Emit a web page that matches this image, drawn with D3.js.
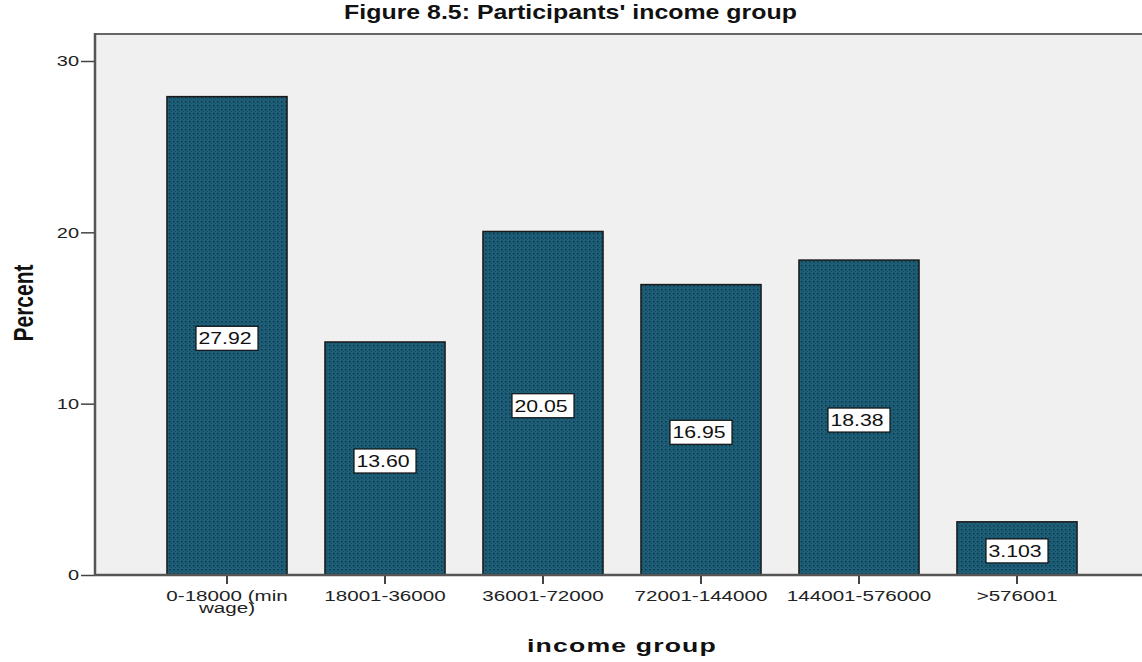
<!DOCTYPE html>
<html>
<head>
<meta charset="utf-8">
<script src="https://cdn.jsdelivr.net/npm/d3@7"></script>
<style>
  body { margin: 0; background: #fff; }
  svg { display: block; font-family: Arial, "Liberation Sans", sans-serif; }
</style>
</head>
<body>
<svg id="chart" width="1142" height="662"></svg>
<script>
const categories = ['0-18000 (min wage)', '18001-36000', '36001-72000', '72001-144000', '144001-576000', '>576001'];
const tickLines = [['0-18000 (min', 'wage)'], ['18001-36000'], ['36001-72000'], ['72001-144000'], ['144001-576000'], ['>576001']];
const percents = [27.92, 13.60, 20.05, 16.95, 18.38, 3.103];
const valueLabels = ['27.92', '13.60', '20.05', '16.95', '18.38', '3.103'];
const yTicks = [0, 10, 20, 30];

// the original export is stretched sideways, so text gets a horizontal scale
const SX = 1.33;

const svg = d3.select('#chart');
const plot = { left: 95, top: 34, right: 1142, bottom: 575 };

const x = d3.scaleBand()
  .domain(categories)
  .range([148, 1096])
  .paddingInner(0.24)
  .paddingOuter(0.12);

const y = d3.scaleLinear()
  .domain([0, 30])
  .range([plot.bottom, 61]);

// dotted fill like the SPSS output
const defs = svg.append('defs');
const pat = defs.append('pattern')
  .attr('id', 'dots')
  .attr('width', 4).attr('height', 4)
  .attr('patternUnits', 'userSpaceOnUse');
pat.append('rect').attr('width', 4).attr('height', 4).attr('fill', '#1d5e78');
pat.append('rect').attr('x', 1).attr('y', 1).attr('width', 1.5).attr('height', 1.5).attr('fill', '#0e3646');
pat.append('rect').attr('x', 3).attr('y', 3).attr('width', 1).attr('height', 1).attr('fill', '#174d63');

// plot background
svg.append('rect')
  .attr('x', plot.left).attr('y', plot.top)
  .attr('width', plot.right - plot.left)
  .attr('height', plot.bottom - plot.top)
  .attr('fill', '#f0f0f0');

svg.append('line')
  .attr('x1', plot.left).attr('x2', plot.right)
  .attr('y1', plot.top).attr('y2', plot.top)
  .attr('stroke', '#666').attr('stroke-width', 2);

// bars
svg.append('g')
  .selectAll('rect')
  .data(percents)
  .join('rect')
  .attr('x', (d, i) => x(categories[i]))
  .attr('y', d => y(d))
  .attr('width', x.bandwidth())
  .attr('height', d => y(0) - y(d))
  .attr('fill', 'url(#dots)')
  .attr('stroke', '#1a1a1a')
  .attr('stroke-width', 1.5);

// value labels in boxes
const lab = svg.append('g')
  .selectAll('g')
  .data(percents)
  .join('g')
  .attr('transform', (d, i) => `translate(${x(categories[i]) + x.bandwidth() / 2},${y(d / 2) + 2.5})`);

lab.append('rect')
  .attr('x', -31).attr('y', -12)
  .attr('width', 62).attr('height', 24)
  .attr('fill', '#fff')
  .attr('stroke', '#111')
  .attr('stroke-width', 1.2);

lab.append('text')
  .attr('text-anchor', 'middle')
  .attr('transform', `translate(-2,0) scale(${SX},1)`)
  .attr('dy', '0.36em')
  .style('font-size', '16px')
  .style('fill', '#111')
  .text((d, i) => valueLabels[i]);

// y axis
const yAxis = svg.append('g')
  .attr('transform', `translate(${plot.left},0)`)
  .call(d3.axisLeft(y).tickValues(yTicks).tickSize(14).tickPadding(2).tickFormat(d3.format('d')));
yAxis.select('.domain').remove();
yAxis.selectAll('.tick line').attr('stroke', '#444').attr('stroke-width', 1.5);
yAxis.selectAll('.tick text')
  .attr('x', -16 / SX)
  .attr('transform', `scale(${SX},1)`)
  .style('font-size', '15px').style('fill', '#222').attr('font-family', null);

svg.append('line')
  .attr('x1', plot.left).attr('x2', plot.left)
  .attr('y1', plot.top - 1).attr('y2', plot.bottom + 1)
  .attr('stroke', '#555').attr('stroke-width', 2.5);

// x axis
const xAxis = svg.append('g')
  .attr('transform', `translate(0,${plot.bottom})`)
  .call(d3.axisBottom(x).tickSize(9).tickFormat(''));
xAxis.select('.domain').remove();
xAxis.selectAll('.tick line').attr('stroke', '#444').attr('stroke-width', 2);

svg.append('line')
  .attr('x1', plot.left).attr('x2', plot.right)
  .attr('y1', plot.bottom).attr('y2', plot.bottom)
  .attr('stroke', '#555').attr('stroke-width', 2.5);

const tl = svg.append('g')
  .selectAll('text')
  .data(categories)
  .join('text')
  .attr('transform', d => `translate(${x(d) + x.bandwidth() / 2},601) scale(${SX},1)`)
  .attr('text-anchor', 'middle')
  .style('font-size', '15.5px')
  .style('fill', '#222');
tl.each(function (d, i) {
  d3.select(this).selectAll('tspan')
    .data(tickLines[i])
    .join('tspan')
    .attr('x', 0)
    .attr('dy', (t, j) => j === 0 ? 0 : 12)
    .text(t => t);
});

// titles, stretched to the width they have in the original
function fitWidth(sel, w) {
  const len = sel.node().getComputedTextLength();
  return w / len;
}

const title = svg.append('text')
  .attr('text-anchor', 'middle')
  .style('font-size', '19.5px')
  .style('font-weight', 'bold')
  .style('fill', '#111')
  .text("Figure 8.5: Participants' income group");
title.attr('transform', `translate(570.5,19) scale(${fitWidth(title, 453)},1)`);

const xTitle = svg.append('text')
  .attr('text-anchor', 'middle')
  .style('font-size', '18.5px')
  .style('font-weight', 'bold')
  .style('letter-spacing', '0.8px')
  .style('fill', '#111')
  .text('income group');
xTitle.attr('transform', `translate(622,652) scale(${fitWidth(xTitle, 190)},1)`);

svg.append('text')
  .attr('transform', `translate(33,303) scale(${SX},1) rotate(-90)`)
  .attr('text-anchor', 'middle')
  .style('font-size', '21px')
  .style('font-weight', 'bold')
  .style('fill', '#111')
  .text('Percent');
</script>
</body>
</html>
